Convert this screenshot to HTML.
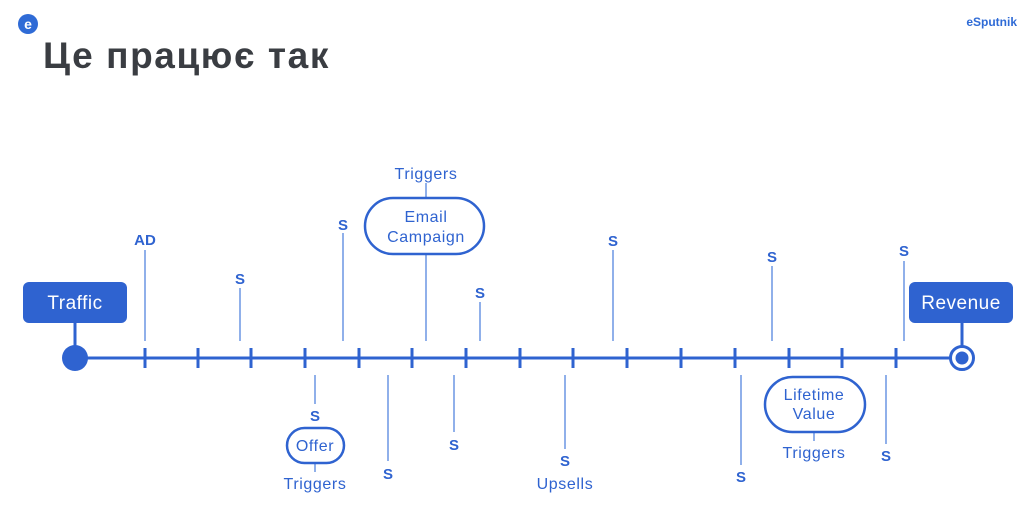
<!DOCTYPE html>
<html><head><meta charset="utf-8"><style>
html,body{margin:0;padding:0;background:#fff;}
svg{display:block}
text{font-family:"Liberation Sans",sans-serif;}
</style></head><body>
<svg width="1024" height="529" viewBox="0 0 1024 529" xmlns="http://www.w3.org/2000/svg">
<circle cx="28" cy="24" r="10" fill="#2f6bd6"/>
<text x="28" y="29" font-size="14" font-weight="bold" fill="#fff" text-anchor="middle">e</text>
<text x="1017" y="26" font-size="12" font-weight="bold" fill="#2f6bd6" text-anchor="end">eSputnik</text>
<text x="43" y="68" font-size="37" font-weight="bold" fill="#3a3d42" letter-spacing="1.6">Це працює так</text>

<g stroke="#6b95e3" stroke-width="1.5" fill="none">
<line x1="145" y1="250" x2="145" y2="341"/>
<line x1="240" y1="288" x2="240" y2="341"/>
<line x1="343" y1="233" x2="343" y2="341"/>
<line x1="426" y1="255" x2="426" y2="341"/>
<line x1="426" y1="183" x2="426" y2="198"/>
<line x1="480" y1="302" x2="480" y2="341"/>
<line x1="613" y1="250" x2="613" y2="341"/>
<line x1="772" y1="266" x2="772" y2="341"/>
<line x1="904" y1="261" x2="904" y2="341"/>
<line x1="315" y1="375" x2="315" y2="404"/>
<line x1="315" y1="463" x2="315" y2="472"/>
<line x1="388" y1="375" x2="388" y2="461"/>
<line x1="454" y1="375" x2="454" y2="432"/>
<line x1="565" y1="375" x2="565" y2="449"/>
<line x1="741" y1="375" x2="741" y2="465"/>
<line x1="814" y1="432" x2="814" y2="441"/>
<line x1="886" y1="375" x2="886" y2="444"/>
</g>

<g stroke="#2f63d0" stroke-width="3">
<line x1="75" y1="358" x2="950" y2="358"/>
<line x1="75" y1="323" x2="75" y2="350"/>
<line x1="962" y1="323" x2="962" y2="346"/>
<line x1="145" y1="348" x2="145" y2="368"/><line x1="198" y1="348" x2="198" y2="368"/>
<line x1="251" y1="348" x2="251" y2="368"/><line x1="305" y1="348" x2="305" y2="368"/>
<line x1="359" y1="348" x2="359" y2="368"/><line x1="412" y1="348" x2="412" y2="368"/>
<line x1="466" y1="348" x2="466" y2="368"/><line x1="520" y1="348" x2="520" y2="368"/>
<line x1="573" y1="348" x2="573" y2="368"/><line x1="627" y1="348" x2="627" y2="368"/>
<line x1="681" y1="348" x2="681" y2="368"/><line x1="735" y1="348" x2="735" y2="368"/>
<line x1="789" y1="348" x2="789" y2="368"/><line x1="842" y1="348" x2="842" y2="368"/>
<line x1="896" y1="348" x2="896" y2="368"/>
</g>
<circle cx="75" cy="358" r="13" fill="#2f63d0"/>
<circle cx="962" cy="358" r="11.5" fill="#fff" stroke="#2f63d0" stroke-width="3"/>
<circle cx="962" cy="358" r="6.5" fill="#2f63d0"/>

<rect x="23" y="282" width="104" height="41" rx="6" fill="#2f63d0"/>
<text x="75" y="309" font-size="19" fill="#fff" text-anchor="middle" letter-spacing="0.5">Traffic</text>
<rect x="909" y="282" width="104" height="41" rx="6" fill="#2f63d0"/>
<text x="961" y="309" font-size="19" fill="#fff" text-anchor="middle" letter-spacing="0.5">Revenue</text>

<g fill="none" stroke="#2f63d0" stroke-width="2.5">
<rect x="365" y="198" width="119" height="56" rx="28"/>
<rect x="287" y="428" width="57" height="35" rx="17.5"/>
<rect x="765" y="377" width="100" height="55" rx="27.5"/>
</g>

<g fill="#2f63d0" font-size="16" text-anchor="middle" letter-spacing="0.6">
<text x="426" y="222">Email</text><text x="426" y="242">Campaign</text>
<text x="315" y="451">Offer</text>
<text x="814" y="400">Lifetime</text><text x="814" y="419">Value</text>
<text x="426" y="179">Triggers</text>
<text x="315" y="489">Triggers</text>
<text x="565" y="489">Upsells</text>
<text x="814" y="458">Triggers</text>
</g>
<g fill="#2f63d0" font-size="15" font-weight="bold" text-anchor="middle">
<text x="145" y="245">AD</text>
<text x="240" y="284">S</text>
<text x="343" y="230">S</text>
<text x="480" y="298">S</text>
<text x="613" y="246">S</text>
<text x="772" y="262">S</text>
<text x="904" y="256">S</text>
<text x="315" y="421">S</text>
<text x="388" y="479">S</text>
<text x="454" y="450">S</text>
<text x="565" y="466">S</text>
<text x="741" y="482">S</text>
<text x="886" y="461">S</text>
</g>
</svg>
</body></html>
